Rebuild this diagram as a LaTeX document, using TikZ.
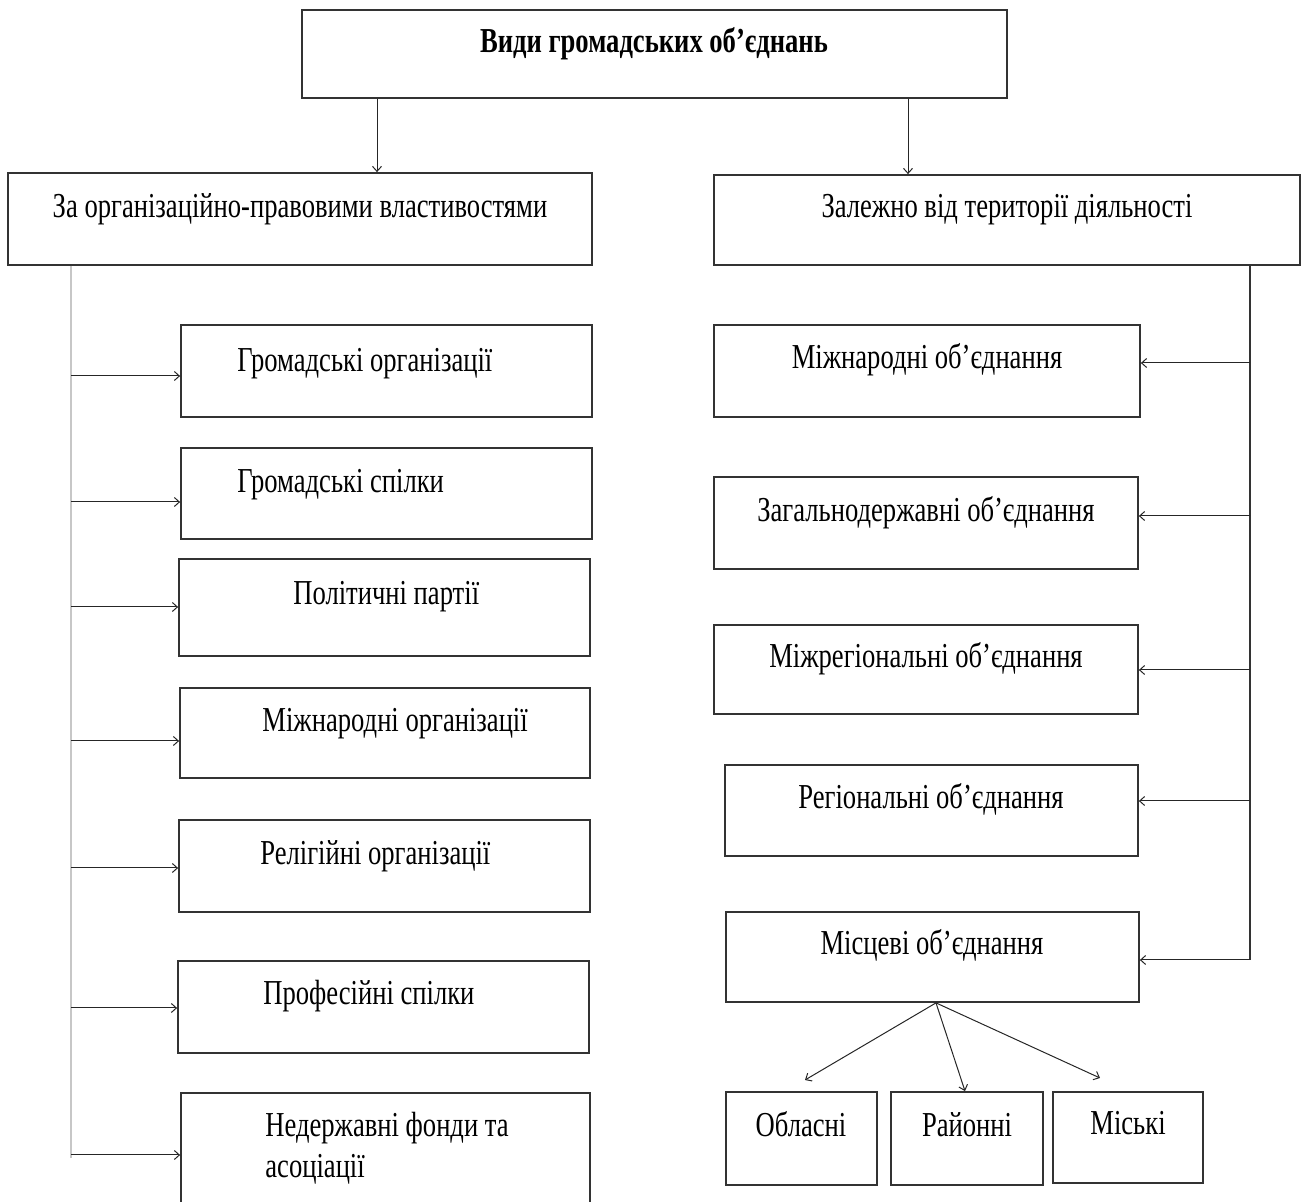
\documentclass[tikz,border=0pt]{standalone}
\usepackage{fontspec}
\setmainfont{Liberation Serif}[FakeStretch=0.76]
\usetikzlibrary{arrows.meta,fit}
\begin{document}
\begin{tikzpicture}[x=0.5pt,y=-0.5pt,
  box/.style={draw=black!80, line width=0.9pt, inner sep=0pt, fit={#1}},
  lbl/.style={font=\fontsize{17.5}{20.5}\selectfont, inner sep=0pt, align=left},
  ttl/.style={font=\fontsize{17.5}{20.5}\selectfont\bfseries, inner sep=0pt},
  arr/.style={draw=black!85, line width=0.5pt, -{Straight Barb[length=2.5pt,width=4.5pt]}},
  gtrunk/.style={draw=black!22, line width=0.9pt},
  dtrunk/.style={draw=black!80, line width=0.7pt}]
\useasboundingbox (0,0) rectangle (1303,1202);

% top level
\node[box={(302,10) (1007,98)}] (top) {};
\node[ttl, anchor=base] at (654,53) {Види громадських об’єднань};

% the two classification criteria
\node[box={(8,173) (592,265)}] (lcat) {};
\node[lbl, anchor=base] at (300,218) {За організаційно-правовими властивостями};
\node[box={(714,175) (1300,265)}] (rcat) {};
\node[lbl, anchor=base] at (1007,218) {Залежно від території діяльності};

\coordinate (ta) at (377,0);
\coordinate (tb) at (908,0);
\draw[arr] (top.south -| ta) -- (lcat.north -| ta);
\draw[arr] (top.south -| tb) -- (rcat.north -| tb);

% left column
\node[box={(181,325) (592,417)}]  (g1) {};
\node[lbl, anchor=base west] at (237,372)  {Громадські організації};
\node[box={(181,448) (592,539)}]  (g2) {};
\node[lbl, anchor=base west] at (237,493)  {Громадські спілки};
\node[box={(179,559) (590,656)}]  (g3) {};
\node[lbl, anchor=base west] at (293,605)  {Політичні партії};
\node[box={(180,688) (590,778)}]  (g4) {};
\node[lbl, anchor=base west] at (262,732)  {Міжнародні організації};
\node[box={(179,820) (590,912)}]  (g5) {};
\node[lbl, anchor=base west] at (260,865)  {Релігійні організації};
\node[box={(178,961) (589,1053)}] (g6) {};
\node[lbl, anchor=base west] at (263,1005) {Професійні спілки};
\node[box={(181,1093) (590,1222)}] (g7) {};
\node[lbl, anchor=base west] at (265,1137) {Недержавні фонди та};
\node[lbl, anchor=base west] at (265,1178) {асоціації};

\coordinate (lt) at (71,1158);
\draw[gtrunk] (lcat.south -| lt) -- (lt);
\foreach \n/\y in {1/376, 2/502, 3/607, 4/741, 5/868, 6/1008, 7/1155} {
  \coordinate (L\n) at (71,\y);
  \draw[arr] (L\n) -- (L\n -| g\n.west);
}

% right column
\node[box={(714,325) (1140,417)}]  (r1) {};
\node[lbl, anchor=base] at (927,369)  {Міжнародні об’єднання};
\node[box={(714,477) (1138,569)}]  (r2) {};
\node[lbl, anchor=base] at (926,522)  {Загальнодержавні об’єднання};
\node[box={(714,625) (1138,714)}]  (r3) {};
\node[lbl, anchor=base] at (926,668)  {Міжрегіональні об’єднання};
\node[box={(725,765) (1138,856)}]  (r4) {};
\node[lbl, anchor=base] at (931,809)  {Регіональні об’єднання};
\node[box={(726,912) (1139,1002)}] (r5) {};
\node[lbl, anchor=base] at (932,955)  {Місцеві об’єднання};

\coordinate (rt) at (1250,960);
\draw[dtrunk] (rcat.south -| rt) -- (rt);
\foreach \n/\y in {1/363, 2/516, 3/670, 4/801, 5/960} {
  \coordinate (R\n) at (1250,\y);
  \draw[arr] (R\n) -- (R\n -| r\n.east);
}

% local associations
\node[box={(726,1092) (877,1185)}]  (c1) {};
\node[lbl, anchor=base] at (801,1137)  {Обласні};
\node[box={(891,1092) (1043,1185)}] (c2) {};
\node[lbl, anchor=base] at (967,1137)  {Районні};
\node[box={(1053,1092) (1203,1183)}] (c3) {};
\node[lbl, anchor=base] at (1128,1135) {Міські};

\coordinate (fo) at (936,0);
\coordinate (e1) at (805,1080);
\coordinate (e2) at (965,0);
\coordinate (e3) at (1100,1078);
\draw[arr] (r5.south -| fo) -- (e1);
\draw[arr] (r5.south -| fo) -- (c2.north -| e2);
\draw[arr] (r5.south -| fo) -- (e3);
\end{tikzpicture}
\end{document}
